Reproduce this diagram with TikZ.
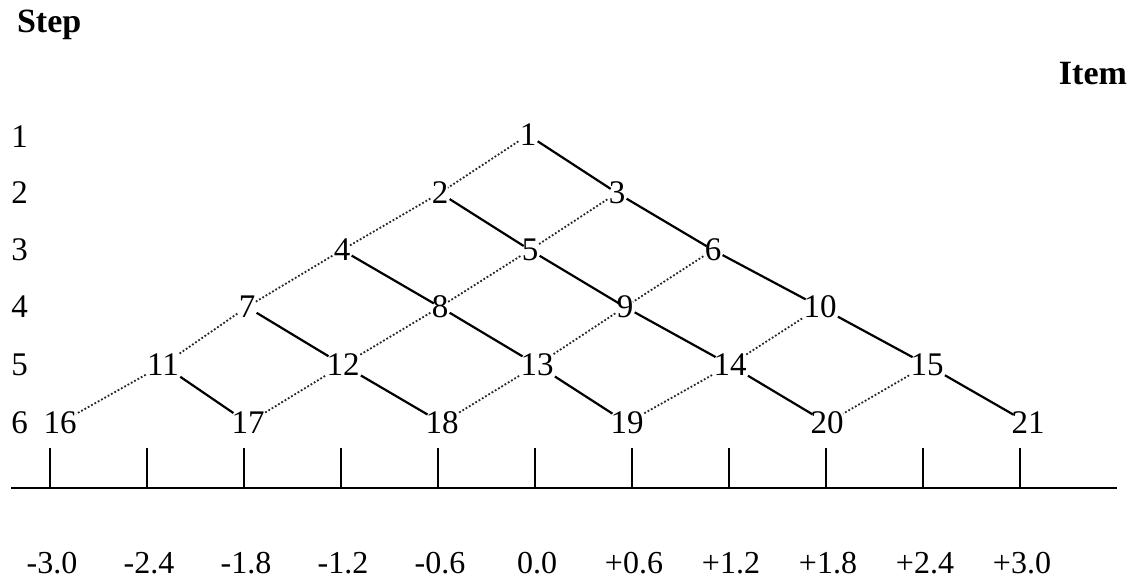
\documentclass[tikz,border=0pt]{standalone}
\usepackage{fontspec}
\setmainfont{Liberation Serif}
\begin{document}
\begin{tikzpicture}[x=0.5pt, y=-0.5pt, line join=round, font=\fontsize{16.5}{19}\selectfont,
		item/.style={inner sep=0.5pt},
		uplink/.style={line width=1.1pt, shorten >=-2pt},
		downlink/.style={line width=0.9pt, densely dotted, black!85, shorten >=-1pt},
		head/.style={font=\fontsize{17}{20}\selectfont\bfseries}]
	\useasboundingbox (0,0) rectangle (1136,581);
	\node[head, anchor=base west] (step) at (10,33) {Step};
	\node[head, anchor=base east] (item) at (1134,85) {Item};
	\foreach \s/\y in {1/137, 2/193, 3/250, 4/307, 5/365, 6/423} {
		\node[anchor=west, inner sep=0pt] (s\s) at (11,\y) {\s};
	}
	% items of the tree
	\node[item] (n1) at (528,135) {1};
	\node[item] (n2) at (440,193) {2};
	\node[item] (n3) at (617,193) {3};
	\node[item] (n4) at (342,250) {4};
	\node[item] (n5) at (530,250) {5};
	\node[item] (n6) at (713,250) {6};
	\node[item] (n7) at (247,307) {7};
	\node[item] (n8) at (440,307) {8};
	\node[item] (n9) at (625,307) {9};
	\node[item] (n10) at (820,307) {10};
	\node[item] (n11) at (163,365) {11};
	\node[item] (n12) at (343,365) {12};
	\node[item] (n13) at (537,365) {13};
	\node[item] (n14) at (730,365) {14};
	\node[item] (n15) at (927,365) {15};
	\node[item] (n16) at (60,423) {16};
	\node[item] (n17) at (248,423) {17};
	\node[item] (n18) at (442,423) {18};
	\node[item] (n19) at (627,423) {19};
	\node[item] (n20) at (827,423) {20};
	\node[item] (n21) at (1028,423) {21};
	\foreach \a/\b in {1/2, 2/4, 4/7, 7/11, 11/16, 3/5, 5/8, 8/12, 12/17, 6/9, 9/13, 13/18, 10/14, 14/19, 15/20} {
		\draw[downlink] (n\a) -- (n\b);
	}
	\foreach \a/\b in {1/3, 3/6, 6/10, 10/15, 15/21, 2/5, 5/9, 9/14, 14/20, 4/8, 8/13, 13/19, 7/12, 12/18, 11/17} {
		\draw[uplink] (n\a) -- (n\b);
	}
	% scale
	\coordinate (axl) at (11,488);
	\coordinate (axr) at (1117,488);
	\draw[line width=1pt] (axl) -- (axr);
	\foreach \v [count=\k from 0] in {-3.0, -2.4, -1.8, -1.2, -0.6, 0.0, +0.6, +1.2, +1.8, +2.4, +3.0} {
		\coordinate (t\k) at (50+97*\k,488);
		\draw[line width=1pt] (t\k) -- ++(0,-40);
		\node[font=\fontsize{16}{19}\selectfont, inner sep=0pt] (l\k) at (52+97*\k,563) {\v};
	}
\end{tikzpicture}
\end{document}
